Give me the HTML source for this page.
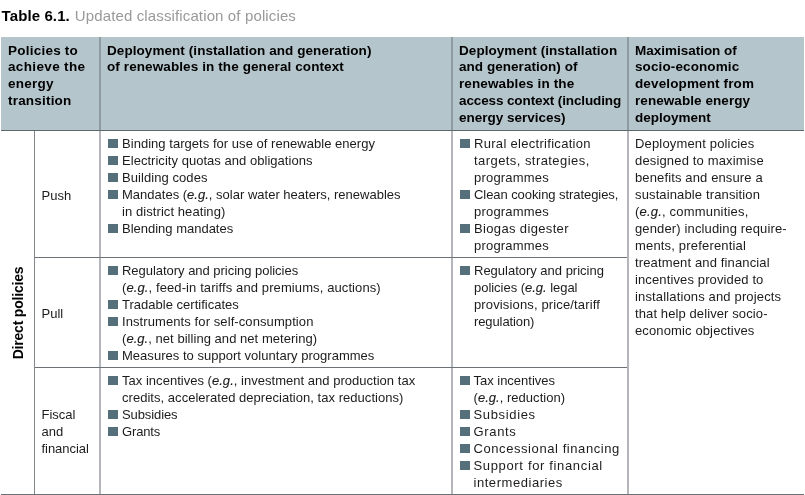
<!DOCTYPE html>
<html>
<head>
<meta charset="utf-8">
<style>
html,body{margin:0;padding:0;background:#fff;}
body{width:805px;height:495px;position:relative;overflow:hidden;will-change:transform;font-family:"Liberation Sans",sans-serif;color:#1a1a1a;}
.a{position:absolute;}
.t{position:absolute;white-space:nowrap;font-size:13px;line-height:17px;color:#1c1c1c;}
.h{position:absolute;white-space:nowrap;font-size:13.5px;line-height:16.85px;font-weight:bold;color:#000;}
.b{position:absolute;width:9.6px;height:9.6px;margin:-0.2px 0 0 -0.1px;background:#55707a;}
.ei{font-style:italic;-webkit-text-stroke:0.12px currentColor;}
</style>
</head>
<body>
<!-- title -->
<div class="a" style="left:1.6px;top:5.9px;white-space:nowrap;font-size:15px;line-height:20px;font-weight:bold;letter-spacing:0.1px;color:#000;">Table 6.1.</div>
<div class="a" style="left:74.8px;top:5.9px;white-space:nowrap;font-size:15px;line-height:20px;letter-spacing:0.13px;color:#999;">Updated classification of policies</div>

<!-- header bg -->
<div class="a" style="left:1px;top:37px;width:803px;height:93px;background:#b5c5cc;"></div>
<div class="a" style="left:1px;top:130px;width:803px;height:1px;background:#5f686c;"></div>
<div class="a" style="left:99px;top:37px;width:2px;height:93px;background:#8e9ba1;"></div>
<div class="a" style="left:451px;top:37px;width:2px;height:93px;background:#8e9ba1;"></div>
<div class="a" style="left:627px;top:37px;width:2px;height:93px;background:#8e9ba1;"></div>

<!-- body lines -->
<div class="a" style="left:34px;top:131px;width:1px;height:363px;background:#80878a;"></div>
<div class="a" style="left:99px;top:131px;width:2px;height:363px;background:#b5b6b9;"></div>
<div class="a" style="left:451px;top:131px;width:2px;height:363px;background:#b5b6b9;"></div>
<div class="a" style="left:627px;top:131px;width:2px;height:363px;background:#b5b6b9;"></div>
<div class="a" style="left:35px;top:257px;width:592px;height:1px;background:#6b7174;"></div>
<div class="a" style="left:35px;top:367px;width:592px;height:1px;background:#6b7174;"></div>
<div class="a" style="left:1px;top:494px;width:803px;height:1px;background:#6b7174;"></div>

<!-- Direct policies -->
<div class="a" style="left:17.5px;top:312.5px;width:0;height:0;">
<div style="position:absolute;left:0;top:0;transform:translate(-50%,-50%) rotate(-90deg);white-space:nowrap;font-size:14px;letter-spacing:-0.2px;font-weight:bold;line-height:16px;color:#000;">Direct policies</div>
</div>

<!-- block 0 -->
<div class="h" style="left:8px;top:42.60px;letter-spacing:0.230px;">Policies to</div>
<div class="h" style="left:8px;top:59.45px;letter-spacing:0.350px;">achieve the</div>
<div class="h" style="left:8px;top:76.30px;letter-spacing:0.240px;">energy</div>
<div class="h" style="left:8px;top:93.15px;letter-spacing:0.200px;">transition</div>
<!-- block 1 -->
<div class="h" style="left:107px;top:42.60px;letter-spacing:0.067px;">Deployment (installation and generation)</div>
<div class="h" style="left:107px;top:59.45px;letter-spacing:0.100px;">of renewables in the general context</div>
<!-- block 2 -->
<div class="h" style="left:459px;top:42.60px;letter-spacing:0.061px;">Deployment (installation</div>
<div class="h" style="left:459px;top:59.45px;letter-spacing:0.041px;">and generation) of</div>
<div class="h" style="left:459px;top:76.30px;letter-spacing:0.119px;">renewables in the</div>
<div class="h" style="left:459px;top:93.15px;letter-spacing:-0.117px;">access context (including</div>
<div class="h" style="left:459px;top:110.00px;">energy services)</div>
<!-- block 3 -->
<div class="h" style="left:635px;top:42.60px;letter-spacing:-0.014px;">Maximisation of</div>
<div class="h" style="left:635px;top:59.45px;letter-spacing:0.108px;">socio-economic</div>
<div class="h" style="left:635px;top:76.30px;letter-spacing:0.127px;">development from</div>
<div class="h" style="left:635px;top:93.15px;letter-spacing:0.067px;">renewable energy</div>
<div class="h" style="left:635px;top:110.00px;letter-spacing:0.011px;">deployment</div>
<!-- block 4 -->
<div class="t" style="left:41.5px;top:187.00px;letter-spacing:0.033px;">Push</div>
<!-- block 5 -->
<div class="t" style="left:41.5px;top:304.50px;">Pull</div>
<!-- block 6 -->
<div class="t" style="left:41.5px;top:405.50px;">Fiscal</div>
<div class="t" style="left:41.5px;top:422.50px;">and</div>
<div class="t" style="left:41.5px;top:439.50px;letter-spacing:-0.037px;">financial</div>
<!-- block 7 -->
<div class="t" style="left:122px;top:135.20px;letter-spacing:0.036px;">Binding targets for use of renewable energy</div>
<div class="t" style="left:122px;top:152.20px;letter-spacing:0.033px;">Electricity quotas and obligations</div>
<div class="t" style="left:122px;top:169.20px;letter-spacing:0.069px;">Building codes</div>
<div class="t" style="left:122px;top:186.20px;letter-spacing:0.007px;">Mandates (<span class="ei">e.g.</span>, solar water heaters, renewables</div>
<div class="t" style="left:122px;top:203.20px;letter-spacing:0.074px;">in district heating)</div>
<div class="t" style="left:122px;top:220.20px;letter-spacing:-0.006px;">Blending mandates</div>
<!-- block 8 -->
<div class="t" style="left:122px;top:262.20px;letter-spacing:-0.030px;">Regulatory and pricing policies</div>
<div class="t" style="left:122px;top:279.20px;letter-spacing:0.102px;">(<span class="ei">e.g.</span>, feed-in tariffs and premiums, auctions)</div>
<div class="t" style="left:122px;top:296.20px;letter-spacing:0.015px;">Tradable certificates</div>
<div class="t" style="left:122px;top:313.20px;letter-spacing:0.090px;">Instruments for self-consumption</div>
<div class="t" style="left:122px;top:330.20px;letter-spacing:0.043px;">(<span class="ei">e.g.</span>, net billing and net metering)</div>
<div class="t" style="left:122px;top:347.20px;letter-spacing:0.023px;">Measures to support voluntary programmes</div>
<!-- block 9 -->
<div class="t" style="left:122px;top:372.20px;letter-spacing:0.024px;">Tax incentives (<span class="ei">e.g.</span>, investment and production tax</div>
<div class="t" style="left:122px;top:389.20px;letter-spacing:0.035px;">credits, accelerated depreciation, tax reductions)</div>
<div class="t" style="left:122px;top:406.20px;letter-spacing:-0.100px;">Subsidies</div>
<div class="t" style="left:122px;top:423.20px;letter-spacing:-0.140px;">Grants</div>
<!-- block 10 -->
<div class="t" style="left:474px;top:135.20px;letter-spacing:0.300px;">Rural electrification</div>
<div class="t" style="left:474px;top:152.20px;letter-spacing:0.437px;">targets, strategies,</div>
<div class="t" style="left:474px;top:169.20px;letter-spacing:0.200px;">programmes</div>
<div class="t" style="left:474px;top:186.20px;letter-spacing:-0.067px;">Clean cooking strategies,</div>
<div class="t" style="left:474px;top:203.20px;letter-spacing:0.200px;">programmes</div>
<div class="t" style="left:474px;top:220.20px;letter-spacing:0.350px;">Biogas digester</div>
<div class="t" style="left:474px;top:237.20px;letter-spacing:0.200px;">programmes</div>
<!-- block 11 -->
<div class="t" style="left:474px;top:262.20px;letter-spacing:-0.010px;">Regulatory and pricing</div>
<div class="t" style="left:474px;top:279.20px;letter-spacing:-0.032px;">policies (<span class="ei">e.g.</span> legal</div>
<div class="t" style="left:474px;top:296.20px;letter-spacing:0.139px;">provisions, price/tariff</div>
<div class="t" style="left:474px;top:313.20px;letter-spacing:-0.100px;">regulation)</div>
<!-- block 12 -->
<div class="t" style="left:473.5px;top:372.20px;letter-spacing:-0.015px;">Tax incentives</div>
<div class="t" style="left:473.5px;top:389.20px;letter-spacing:0.031px;">(<span class="ei">e.g.</span>, reduction)</div>
<div class="t" style="left:473.5px;top:406.20px;letter-spacing:0.650px;">Subsidies</div>
<div class="t" style="left:473.5px;top:423.20px;letter-spacing:0.660px;">Grants</div>
<div class="t" style="left:473.5px;top:440.20px;letter-spacing:0.576px;">Concessional financing</div>
<div class="t" style="left:473.5px;top:457.20px;letter-spacing:0.655px;">Support for financial</div>
<div class="t" style="left:473.5px;top:474.20px;letter-spacing:0.546px;">intermediaries</div>
<!-- block 13 -->
<div class="t" style="left:635px;top:135.20px;letter-spacing:0.161px;">Deployment policies</div>
<div class="t" style="left:635px;top:152.20px;letter-spacing:0.158px;">designed to maximise</div>
<div class="t" style="left:635px;top:169.20px;letter-spacing:0.130px;">benefits and ensure a</div>
<div class="t" style="left:635px;top:186.20px;letter-spacing:0.133px;">sustainable transition</div>
<div class="t" style="left:635px;top:203.20px;letter-spacing:0.189px;">(<span class="ei">e.g.</span>, communities,</div>
<div class="t" style="left:635px;top:220.20px;letter-spacing:0.140px;">gender) including require-</div>
<div class="t" style="left:635px;top:237.20px;letter-spacing:0.178px;">ments, preferential</div>
<div class="t" style="left:635px;top:254.20px;letter-spacing:0.141px;">treatment and financial</div>
<div class="t" style="left:635px;top:271.20px;letter-spacing:0.124px;">incentives provided to</div>
<div class="t" style="left:635px;top:288.20px;letter-spacing:0.148px;">installations and projects</div>
<div class="t" style="left:635px;top:305.20px;letter-spacing:0.104px;">that help deliver socio-</div>
<div class="t" style="left:635px;top:322.20px;letter-spacing:0.128px;">economic objectives</div>
<!-- bullets -->
<div class="b" style="left:108px;top:139px;"></div>
<div class="b" style="left:108px;top:156px;"></div>
<div class="b" style="left:108px;top:173px;"></div>
<div class="b" style="left:108px;top:190px;"></div>
<div class="b" style="left:108px;top:224px;"></div>
<div class="b" style="left:108px;top:266px;"></div>
<div class="b" style="left:108px;top:300px;"></div>
<div class="b" style="left:108px;top:317px;"></div>
<div class="b" style="left:108px;top:351px;"></div>
<div class="b" style="left:108px;top:376px;"></div>
<div class="b" style="left:108px;top:410px;"></div>
<div class="b" style="left:108px;top:427px;"></div>
<div class="b" style="left:460px;top:139px;"></div>
<div class="b" style="left:460px;top:190px;"></div>
<div class="b" style="left:460px;top:224px;"></div>
<div class="b" style="left:460px;top:266px;"></div>
<div class="b" style="left:460px;top:376px;"></div>
<div class="b" style="left:460px;top:410px;"></div>
<div class="b" style="left:460px;top:427px;"></div>
<div class="b" style="left:460px;top:444px;"></div>
<div class="b" style="left:460px;top:461px;"></div>
</body>
</html>
